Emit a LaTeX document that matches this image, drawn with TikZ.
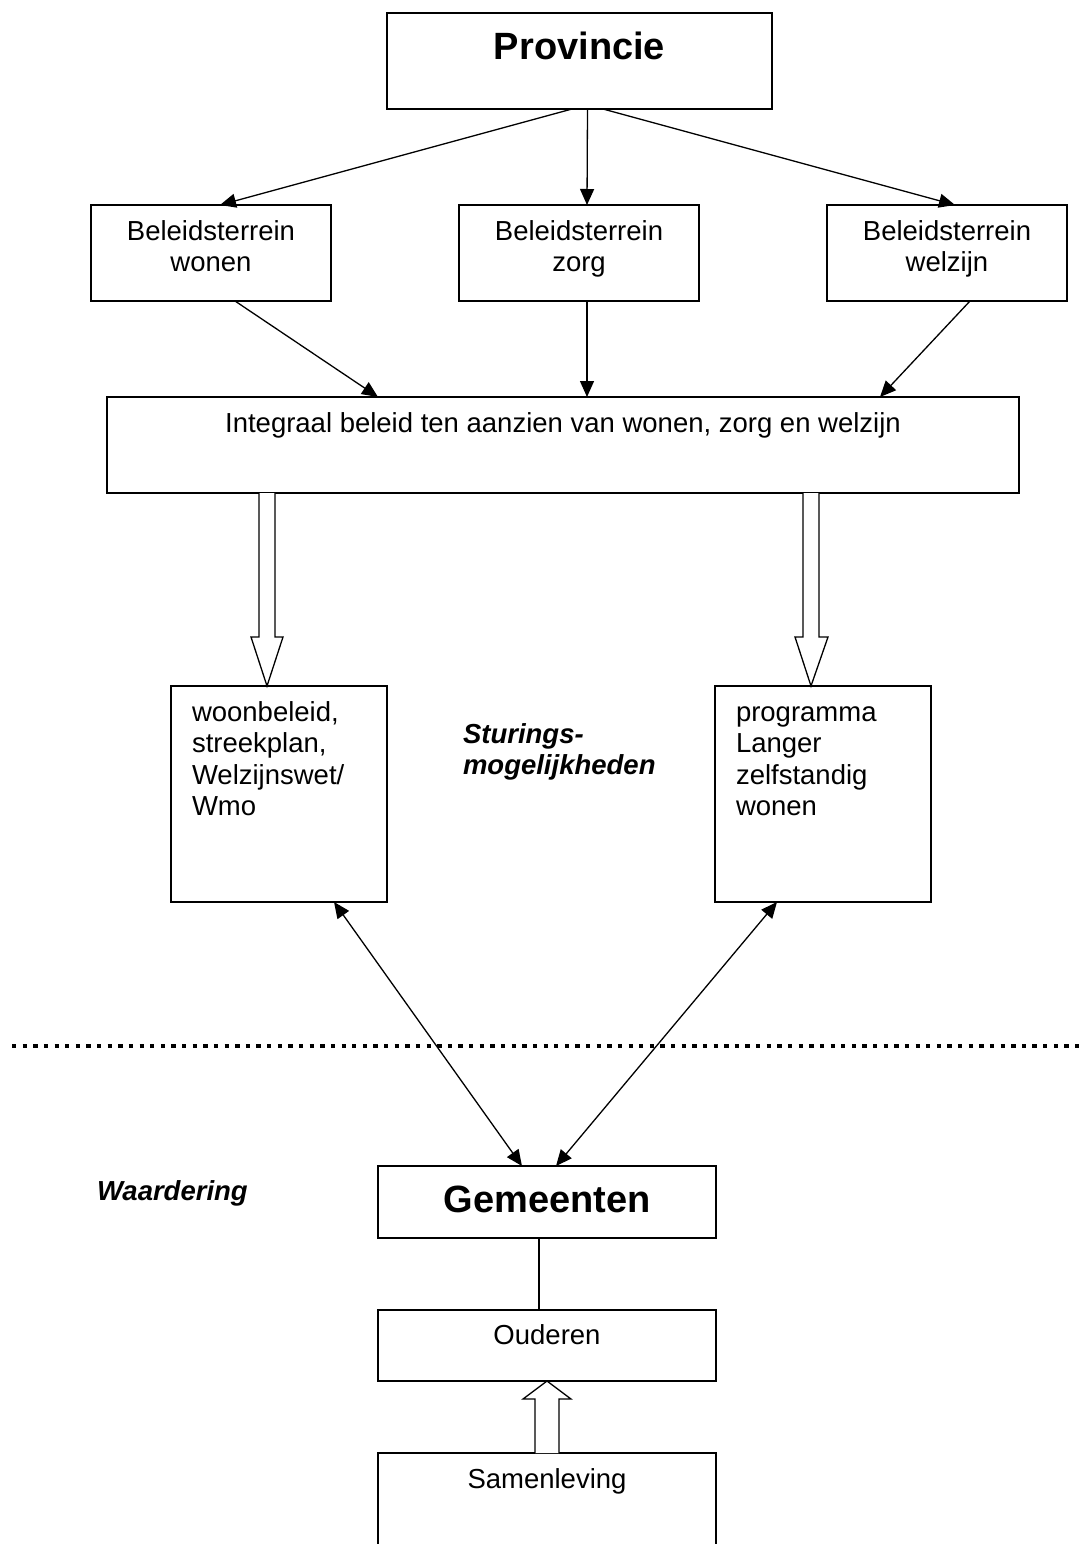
\documentclass[tikz,border=0pt]{standalone}
\usepackage{fontspec}
\setmainfont{Liberation Sans}
\usetikzlibrary{arrows.meta,calc}
\newcommand{\normtxt}{\fontsize{27.5}{31.6}\selectfont}
\newcommand{\bigtxt}{\fontsize{38}{44}\selectfont\bfseries}
\tikzset{
  box/.style={draw, line width=1.3pt, rectangle, inner sep=0pt, outer sep=0pt},
  txt/.style={inner sep=0pt, outer sep=0pt, anchor=base, font=\normtxt},
  ltxt/.style={inner sep=0pt, outer sep=0pt, anchor=base west, font=\normtxt},
  conn/.style={line width=1.3pt, -{Triangle[length=16pt,width=14pt]}},
  biconn/.style={line width=1.3pt, {Triangle[length=16pt,width=14pt]}-{Triangle[length=16pt,width=14pt]}},
  plain/.style={line width=1.3pt},
  hollow/.style={draw, line width=1.3pt, fill=white, line join=miter},
  dotline/.style={line width=4.3pt, dash pattern=on 4.3pt off 6.33pt}
}
\begin{document}
\begin{tikzpicture}[x=1pt,y=-1pt]
\useasboundingbox (0,0) rectangle (1085,1544);
\clip (0,0) rectangle (1085,1544);
\fill[white] (0,0) rectangle (1085,1544);

% boxes
\node[box, minimum width=385pt, minimum height=96pt] (prov) at (579.5,61) {};
\node[box, minimum width=240pt, minimum height=96pt] (wonen) at (211,253) {};
\node[box, minimum width=240pt, minimum height=96pt] (zorg) at (579,253) {};
\node[box, minimum width=240pt, minimum height=96pt] (welzijn) at (947,253) {};
\node[box, minimum width=912pt, minimum height=96pt] (integraal) at (563,445) {};
\node[box, minimum width=216pt, minimum height=216pt] (woonb) at (279,794) {};
\node[box, minimum width=216pt, minimum height=216pt] (progr) at (823,794) {};
\node[box, minimum width=338pt, minimum height=72pt] (gem) at (547,1202) {};
\node[box, minimum width=338pt, minimum height=71pt] (oud) at (547,1345.5) {};
\node[box, minimum width=338pt, minimum height=147pt] (samen) at (547,1526.5) {};

% texts
\node[txt, font=\bigtxt] (tprov) at (579.5,60) {Provincie};
\node[txt] (twonen) at (211,240) {\begin{tabular}[t]{@{}c@{}}Beleidsterrein\\wonen\end{tabular}};
\node[txt] (tzorg) at (579,240) {\begin{tabular}[t]{@{}c@{}}Beleidsterrein\\zorg\end{tabular}};
\node[txt] (twelzijn) at (947,240) {\begin{tabular}[t]{@{}c@{}}Beleidsterrein\\welzijn\end{tabular}};
\node[txt] (tint) at (563,432) {Integraal beleid ten aanzien van wonen, zorg en welzijn};
\node[ltxt] (twoonb) at (192,721) {\begin{tabular}[t]{@{}l@{}}woonbeleid,\\streekplan,\\Welzijnswet/\\Wmo\end{tabular}};
\node[ltxt] (tprogr) at (736,721) {\begin{tabular}[t]{@{}l@{}}programma\\Langer\\zelfstandig\\wonen\end{tabular}};
\node[ltxt, font=\normtxt\bfseries\itshape] (tstur) at (463,743) {\begin{tabular}[t]{@{}l@{}}Sturings-\\mogelijkheden\end{tabular}};
\node[ltxt, font=\normtxt\bfseries\itshape] (twaard) at (97,1200) {Waardering};
\node[txt, font=\bigtxt] (tgem) at (547,1212) {Gemeenten};
\node[txt] (toud) at (547,1344) {Ouderen};
\node[txt] (tsamen) at (547,1488) {Samenleving};

% connectors top
\draw[conn] ([xshift=-7.5pt]prov.south) -- ([xshift=9pt]wonen.north);
\draw[conn] ([xshift=8pt]prov.south) -- ([xshift=8pt]zorg.north);
\draw[conn] ([xshift=23.5pt]prov.south) -- ([xshift=8pt]welzijn.north);
\draw[conn] ([xshift=24pt]wonen.south) -- ([xshift=-185pt]integraal.north);
\draw[conn] ([xshift=8pt]zorg.south) -- ([xshift=24pt]integraal.north);
\draw[conn] ([xshift=23pt]welzijn.south) -- ([xshift=317pt]integraal.north);

% hollow arrows
\draw[hollow] (259,493) -- (259,637) -- (251,637) -- (267,686) -- (283,637) -- (275,637) -- (275,493);
\draw[hollow] (803,493) -- (803,637) -- (795,637) -- (811,686) -- (828,637) -- (819,637) -- (819,493);
\draw[hollow] (535,1453) -- (535,1399) -- (523,1399) -- (547,1381) -- (571,1399) -- (559,1399) -- (559,1453);

% double arrows
\draw[biconn] ([xshift=55pt]woonb.south) -- ([xshift=-25pt]gem.north);
\draw[biconn] ([xshift=-46pt]progr.south) -- ([xshift=9pt]gem.north);

% plain line
\draw[plain] ([xshift=-8pt]gem.south) -- ([xshift=-8pt]oud.north);

% dotted separator
\coordinate (dl) at (12,1046);
\coordinate (dr) at (1090,1046);
\draw[dotline] (dl) -- (dr);
\end{tikzpicture}
\end{document}
